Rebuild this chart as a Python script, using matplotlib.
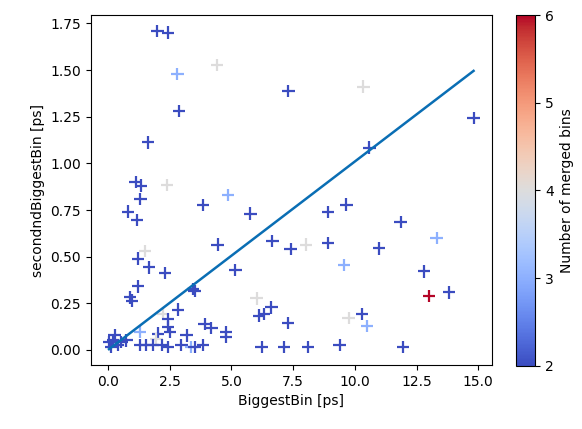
import numpy as np
import matplotlib
matplotlib.use("Agg")
import matplotlib.pyplot as plt

# biggest bin [ps], second biggest bin [ps], number of merged bins
biggest = [2.00, 2.43, 2.81, 4.42, 2.88, 1.61, 7.31, 10.35, 14.81, 10.59,
           1.12, 1.33, 1.31, 0.81, 1.18, 2.39, 3.85, 4.86, 5.77, 4.44,
           6.66, 7.40, 8.01, 1.49, 1.22, 1.65, 2.30, 5.16, 8.92, 9.66,
           8.92, 11.85, 13.31, 10.99, 9.56, 12.80, 13.01, 13.81, 6.02, 6.11,
           6.32, 6.62, 7.30, 9.75, 10.30, 10.50, 6.22, 7.14, 8.11, 9.38,
           11.96, 1.22, 0.88, 0.98, 3.45, 3.51, 2.84, 2.23, 2.43, 2.43,
           2.50, 1.29, 2.02, 3.18, 3.91, 4.19, 4.79, 4.77, 0.20, 0.54,
           0.13, 0.41, 0.04, 1.96, 1.29, 1.55, 1.82, 2.17, 2.43, 2.97,
           3.38, 3.51, 3.85, 0.27, 0.74]
second = [1.710, 1.701, 1.478, 1.528, 1.280, 1.113, 1.389, 1.412, 1.243, 1.084,
          0.899, 0.881, 0.808, 0.741, 0.695, 0.884, 0.777, 0.829, 0.731, 0.565,
          0.583, 0.542, 0.564, 0.530, 0.489, 0.442, 0.411, 0.429, 0.740, 0.779,
          0.574, 0.686, 0.601, 0.544, 0.456, 0.421, 0.290, 0.308, 0.276, 0.184,
          0.193, 0.228, 0.144, 0.170, 0.193, 0.128, 0.016, 0.016, 0.016, 0.025,
          0.016, 0.340, 0.282, 0.264, 0.326, 0.316, 0.216, 0.193, 0.166, 0.123,
          0.096, 0.096, 0.087, 0.078, 0.140, 0.117, 0.096, 0.069, 0.051, 0.043,
          0.016, 0.025, 0.043, 0.060, 0.025, 0.025, 0.025, 0.025, 0.016, 0.025,
          0.016, 0.016, 0.025, 0.078, 0.051]
merged = [2, 2, 3, 4, 2, 2, 2, 4, 2, 2,
          2, 2, 2, 2, 2, 4, 2, 3, 2, 2,
          2, 2, 4, 4, 2, 2, 2, 2, 2, 2,
          2, 2, 3, 2, 3, 2, 6, 2, 4, 2,
          2, 2, 2, 4, 2, 3, 2, 2, 2, 2,
          2, 2, 2, 2, 2, 2, 2, 4, 2, 2,
          2, 3, 2, 2, 2, 2, 2, 2, 2, 2,
          2, 2, 2, 4, 2, 2, 2, 2, 2, 2,
          3, 2, 2, 2, 2]
slope = 0.101

x = np.array(biggest)
y = np.array(second)
c = np.array(merged)

fig = plt.figure(figsize=(5.82, 4.29), dpi=100)
ax = fig.add_axes([0.156, 0.149, 0.689, 0.816])
cax = fig.add_axes([0.887, 0.147, 0.033, 0.818])

sc = ax.scatter(x, y, c=c, cmap='coolwarm', vmin=2, vmax=6, marker='+',
                s=80, linewidths=1.6)
xl = np.array([x.min(), x.max()])
ax.plot(xl, slope * xl, color='#0a6eb4', lw=1.8)

ax.set_xlabel('BiggestBin [ps]')
ax.set_ylabel('secondndBiggestBin [ps]')
ax.set_xticks([0, 2.5, 5, 7.5, 10, 12.5, 15])
ax.set_yticks([0, 0.25, 0.5, 0.75, 1.0, 1.25, 1.5, 1.75])

cb = fig.colorbar(sc, cax=cax)
cb.set_label('Number of merged bins')
cb.set_ticks([2, 3, 4, 5, 6])

fig.savefig('out.png', dpi=100)
